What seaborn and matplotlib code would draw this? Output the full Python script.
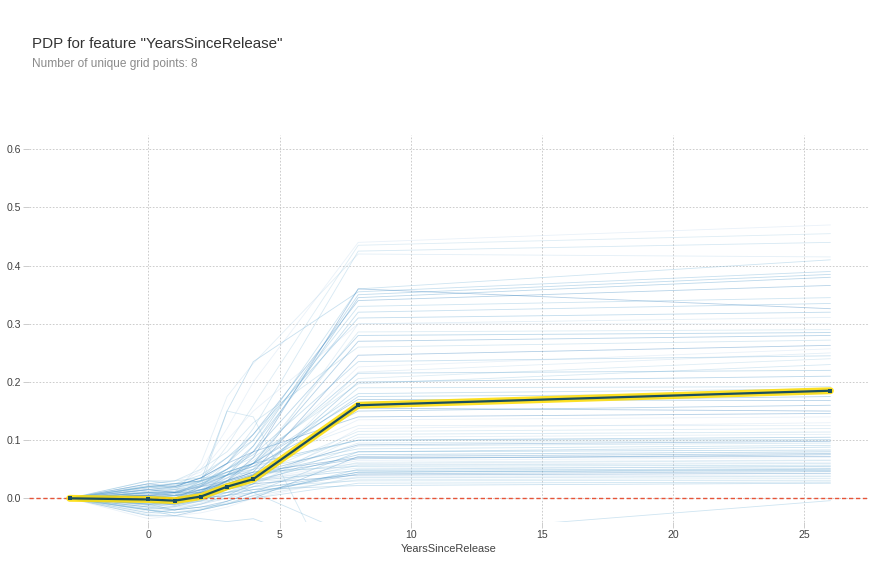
import numpy as np
import pandas as pd
import matplotlib
matplotlib.use("Agg")
import matplotlib.pyplot as plt
import seaborn as sns

# ---------------- data ----------------
grid_x = [-3, 0, 1, 2, 3, 4, 8, 26]
pdp_y = [0.0, -0.002, -0.004, 0.003, 0.020, 0.033, 0.160, 0.185]

ice_high = [
    [0, 0.010, 0.015, 0.050, 0.120, 0.200, 0.440, 0.470],
    [0, 0.005, 0.010, 0.060, 0.175, 0.232, 0.420, 0.415],
    [0, 0.015, 0.020, 0.030, 0.090, 0.160, 0.435, 0.455],
    [0, -0.005, 0.000, 0.020, 0.060, 0.120, 0.425, 0.440],
    [0, 0.020, 0.025, 0.040, 0.070, 0.100, 0.360, 0.410],
    [0, 0.000, 0.005, 0.030, 0.150, 0.235, 0.355, 0.390],
    [0, 0.010, 0.010, 0.025, 0.050, 0.090, 0.350, 0.385],
    [0, -0.010, -0.005, 0.010, 0.040, 0.080, 0.345, 0.380],
    [0, 0.015, 0.020, 0.035, 0.060, 0.110, 0.340, 0.366],
    [0, 0.005, 0.000, 0.015, 0.030, 0.070, 0.360, 0.326],
    [0, 0.025, 0.030, 0.045, 0.100, 0.150, 0.300, 0.300],
    [0, -0.015, -0.010, 0.005, 0.020, 0.050, 0.300, 0.311],
    [0, 0.010, 0.015, 0.020, 0.045, 0.060, 0.286, 0.290],
    [0, 0.030, 0.030, 0.050, 0.080, 0.130, 0.260, 0.272],
    [0, 0.012, 0.018, 0.030, 0.060, 0.100, 0.330, 0.345],
    [0, -0.008, -0.004, 0.012, 0.040, 0.090, 0.320, 0.335],
    [0, 0.018, 0.022, 0.035, 0.070, 0.110, 0.310, 0.320],
    [0, 0.004, 0.008, 0.022, 0.050, 0.080, 0.280, 0.285],
    [0, -0.012, -0.008, 0.006, 0.030, 0.060, 0.270, 0.280],
]
ice_mid = [
    [0, 0.000, -0.005, 0.010, 0.030, 0.045, 0.246, 0.263],
    [0, 0.005, 0.010, 0.020, 0.035, 0.055, 0.226, 0.257],
    [0, -0.020, -0.015, -0.005, 0.010, 0.030, 0.217, 0.250],
    [0, 0.010, 0.005, 0.015, 0.040, 0.065, 0.206, 0.240],
    [0, 0.020, 0.025, 0.030, 0.050, 0.070, 0.197, 0.230],
    [0, -0.005, -0.010, 0.000, 0.020, 0.040, 0.190, 0.192],
    [0, 0.015, 0.010, 0.025, 0.045, 0.060, 0.180, 0.188],
    [0, 0.000, 0.005, 0.010, 0.030, 0.050, 0.175, 0.180],
    [0, -0.010, -0.020, -0.010, 0.005, 0.025, 0.165, 0.175],
    [0, 0.005, 0.000, 0.020, 0.040, 0.055, 0.150, 0.160],
    [0, 0.025, 0.020, 0.035, 0.060, 0.080, 0.140, 0.146],
    [0, -0.025, -0.020, -0.010, 0.000, 0.020, 0.120, 0.130],
    [0, 0.010, 0.015, 0.030, 0.045, 0.060, 0.125, 0.125],
    [0, 0.000, -0.005, 0.005, 0.025, 0.040, 0.115, 0.120],
    [0, -0.015, -0.010, 0.000, 0.015, 0.030, 0.110, 0.114],
    [0, 0.020, 0.015, 0.025, 0.040, 0.055, 0.100, 0.101],
    [0, 0.022, 0.018, 0.028, 0.050, 0.075, 0.235, 0.245],
    [0, 0.002, -0.002, 0.012, 0.035, 0.060, 0.215, 0.220],
    [0, -0.018, -0.014, -0.004, 0.015, 0.040, 0.200, 0.210],
    [0, 0.008, 0.012, 0.022, 0.040, 0.060, 0.170, 0.168],
    [0, -0.006, -0.012, -0.002, 0.020, 0.035, 0.155, 0.150],
    [0, 0.016, 0.012, 0.022, 0.035, 0.050, 0.135, 0.140],
    [0, -0.022, -0.018, -0.008, 0.005, 0.025, 0.105, 0.110],
]
ice_low = [
    [0, 0.005, 0.000, 0.010, 0.020, 0.035, 0.095, 0.100],
    [0, -0.005, -0.010, -0.005, 0.010, 0.025, 0.090, 0.095],
    [0, 0.030, 0.025, 0.030, 0.040, 0.050, 0.085, 0.091],
    [0, -0.020, -0.025, -0.020, -0.005, 0.010, 0.080, 0.088],
    [0, 0.010, 0.005, 0.015, 0.025, 0.040, 0.080, 0.083],
    [0, 0.000, 0.000, 0.005, 0.015, 0.030, 0.075, 0.080],
    [0, -0.030, -0.030, -0.020, -0.010, 0.000, 0.072, 0.077],
    [0, 0.015, 0.010, 0.020, 0.030, 0.045, 0.070, 0.072],
    [0, 0.005, 0.005, 0.010, 0.020, 0.030, 0.065, 0.070],
    [0, -0.010, -0.015, -0.010, 0.000, 0.020, 0.062, 0.066],
    [0, 0.020, 0.020, 0.025, 0.030, 0.040, 0.060, 0.065],
    [0, -0.005, 0.000, 0.000, 0.010, 0.020, 0.057, 0.060],
    [0, 0.025, 0.030, 0.035, 0.040, 0.045, 0.055, 0.057],
    [0, -0.025, -0.020, -0.015, -0.010, 0.005, 0.050, 0.055],
    [0, 0.010, 0.010, 0.015, 0.020, 0.030, 0.048, 0.051],
    [0, 0.000, -0.005, 0.000, 0.005, 0.015, 0.045, 0.048],
    [0, -0.015, -0.020, -0.015, -0.005, 0.010, 0.042, 0.046],
    [0, 0.005, 0.010, 0.010, 0.015, 0.025, 0.040, 0.043],
    [0, -0.035, -0.030, -0.025, -0.015, 0.000, 0.038, 0.040],
    [0, 0.015, 0.015, 0.020, 0.025, 0.030, 0.035, 0.037],
    [0, -0.005, -0.010, -0.005, 0.000, 0.010, 0.032, 0.034],
    [0, 0.000, 0.005, 0.010, 0.010, 0.020, 0.030, 0.031],
    [0, -0.020, -0.025, -0.020, -0.010, 0.000, 0.026, 0.028],
    [0, 0.010, 0.005, 0.005, 0.010, 0.015, 0.022, 0.026],
    [0, -0.010, -0.005, 0.000, 0.005, 0.010, 0.045, 0.050],
    [0, 0.020, 0.025, 0.030, 0.045, 0.060, 0.100, 0.105],
    [0, 0.003, 0.000, 0.010, 0.025, 0.040, 0.068, 0.075],
    [0, 0.006, 0.004, 0.014, 0.028, 0.042, 0.092, 0.098],
    [0, -0.002, 0.002, 0.008, 0.018, 0.030, 0.058, 0.062],
    [0, 0.012, 0.008, 0.012, 0.022, 0.032, 0.052, 0.054],
    [0, -0.028, -0.024, -0.018, -0.008, 0.004, 0.036, 0.038],
]
ice_odd = [
    [0, 0.000, 0.005, 0.020, 0.150, 0.140, -0.220, -0.200],
    [0, -0.010, -0.010, 0.005, 0.030, 0.010, -0.068, -0.004],
    [0, -0.020, -0.030, -0.035, -0.040, -0.035, -0.100, -0.090],
]

x_ticks = [0, 5, 10, 15, 20, 25]
y_ticks = [0.0, 0.1, 0.2, 0.3, 0.4, 0.5, 0.6]
title = 'PDP for feature "YearsSinceRelease"'
subtitle = "Number of unique grid points: 8"
x_label = "YearsSinceRelease"

# ---------------- build long table ----------------
all_ice = ice_high + ice_mid + ice_low + ice_odd
rows = []
for i, line in enumerate(all_ice):
    for gx, gy in zip(grid_x, line):
        rows.append({"line": i, "x": gx, "y": gy})
ice_df = pd.DataFrame(rows)
pdp_df = pd.DataFrame({"x": grid_x, "y": pdp_y})

# ---------------- plot ----------------
sns.set_style("white")
plt.rcParams["font.family"] = ["Liberation Sans", "DejaVu Sans"]

fig = plt.figure(figsize=(8.75, 5.64), dpi=100)
ax = fig.add_axes([29 / 875, 1 - 522 / 564, 840 / 875, 387 / 564])

blues = plt.get_cmap("Blues")(np.linspace(0, 1, 20))[5:15]
n_lines = len(all_ice)
palette = {i: blues[i % 10] for i in range(n_lines)}

sns.lineplot(data=ice_df, x="x", y="y", hue="line", units="line", estimator=None,
             palette=palette, linewidth=0.6, alpha=0.35, legend=False, ax=ax, zorder=2)

ax.axhline(0, color="#E75438", linestyle=(0, (3, 2)), linewidth=1.0, zorder=3)

sns.lineplot(data=pdp_df, x="x", y="y", color="#FEDC00", linewidth=5.0, alpha=0.85,
             ax=ax, zorder=4, legend=False)
sns.lineplot(data=pdp_df, x="x", y="y", color="#1A4E5D", linewidth=1.6, marker="s",
             markersize=3.0, markeredgewidth=0, ax=ax, zorder=5, legend=False)

ax.set_xlim(-4.55, 27.47)
ax.set_ylim(-0.0407, 0.6246)
ax.set_xticks(x_ticks)
ax.set_yticks(y_ticks)
ax.set_yticklabels([f"{v:.1f}" for v in y_ticks])
for s in ax.spines.values():
    s.set_visible(False)
ax.grid(True, linestyle=(0, (2, 2)), color="#c4c4c4", linewidth=0.6)
ax.set_axisbelow(True)
ax.tick_params(axis="both", length=4, width=0.6, color="#c4c4c4",
               labelsize=7.6, labelcolor="#424242", pad=2)
ax.tick_params(axis="x", bottom=True)
ax.tick_params(axis="y", left=True)
ax.set_xlabel(x_label, fontsize=7.9, color="#424242", labelpad=3)
ax.set_ylabel("")

fig.text(32 / 875, 1 - 48.3 / 564, title, fontsize=10.9, color="#333333", va="baseline", ha="left")
fig.text(32 / 875, 1 - 66.7 / 564, subtitle, fontsize=8.6, color="#8a8a8a", va="baseline", ha="left")

fig.savefig("out.png", dpi=100)
